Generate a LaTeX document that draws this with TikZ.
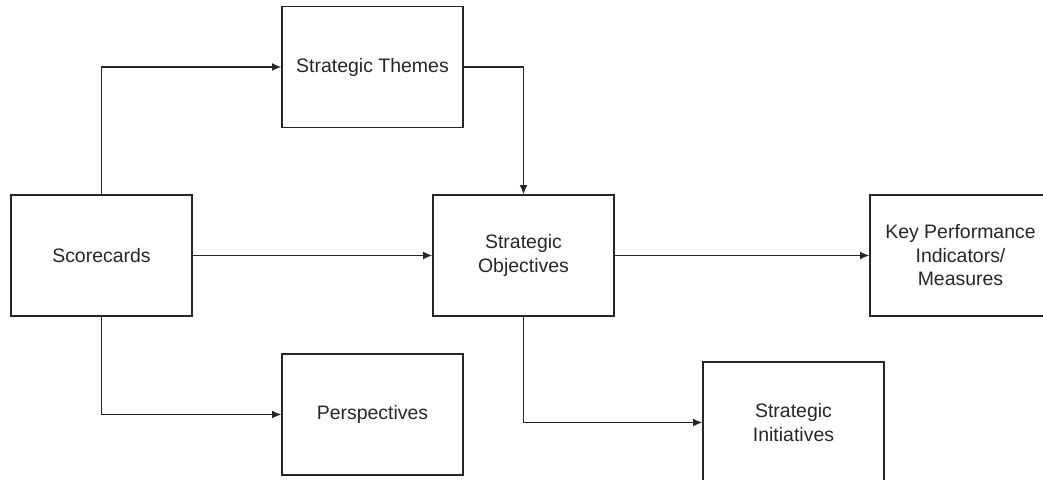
\documentclass[tikz,border=0pt]{standalone}
\usepackage{fontspec}
\setmainfont{Liberation Sans}
\usetikzlibrary{arrows.meta}

\begin{document}
\begin{tikzpicture}[x=0.75pt,y=-0.75pt,
   box/.style={draw=black!85,line width=1pt,minimum width=135.75pt,
      minimum height=90.75pt,inner sep=0pt,align=center,text=black!85,
      font=\fontsize{14.6}{17.6}\selectfont},
   link/.style={draw=black!85,line width=1pt,-{Latex[length=7pt,width=6pt]}}]

   \useasboundingbox (0,0) rectangle (1043,479);
   \clip (0,0) rectangle (1043,479);

   \node[box] (score) at (101.5,255.5) {Scorecards};
   \node[box] (themes) at (372.5,67) {Strategic Themes};
   \node[box] (obj) at (523.5,255.5) {Strategic\\Objectives};
   \node[box] (kpi) at (960.5,255.5) {Key Performance\\Indicators/\\Measures};
   \node[box] (persp) at (372.5,414.5) {Perspectives};
   \node[box] (init) at (793.5,422.5) {Strategic\\Initiatives};

   \foreach \a/\b in {score.east/obj.west, obj.east/kpi.west}
   {
      \draw[link] (\a) -- (\b);
   }

   \foreach \a/\b in {score.north/themes.west, score.south/persp.west,
                      obj.south/init.west}
   {
      \draw[link] (\a) |- (\b);
   }

   \draw[link] (themes.east) -| (obj.north);
\end{tikzpicture}
\end{document}
